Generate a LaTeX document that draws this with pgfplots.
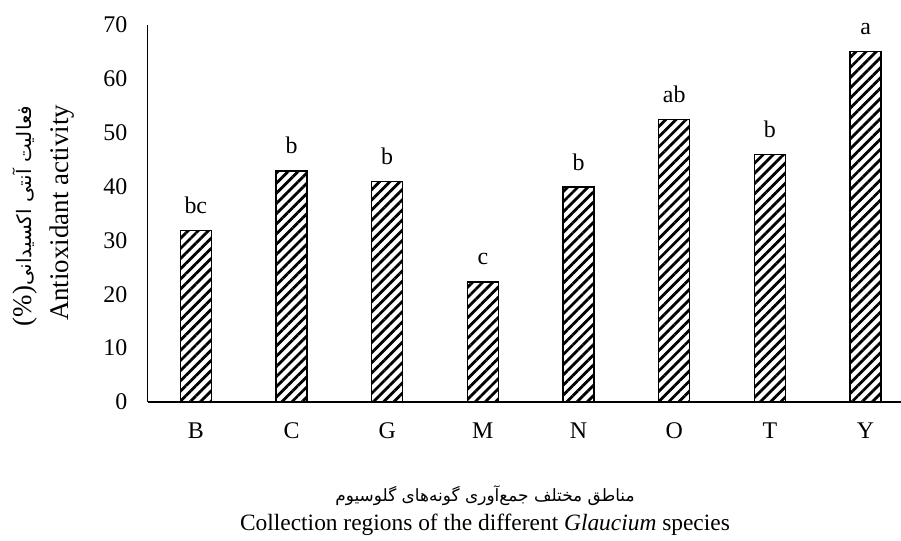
\documentclass[border=0pt]{standalone}
\usepackage{fontspec}
\setmainfont{Liberation Serif}
\newfontfamily\arabicfont[Script=Arabic]{DejaVu Sans}
\TeXXeTstate=1
\usepackage{pgfplots}
\pgfplotsset{compat=1.18}
\usetikzlibrary{patterns.meta}
\pgfplotstableread{
x y l
0 31.8 bc
1 42.9 b
2 41.0 b
3 22.3 c
4 39.9 b
5 52.5 ab
6 46.0 b
7 65.1 a
}\datatab
\newcommand\fs{\fontsize{24}{27}\selectfont}
\newcommand\fsx{\fontsize{23.5}{26}\selectfont}
\newcommand\fsy{\fontsize{27}{30}\selectfont}
\begin{document}
\begin{tikzpicture}
\begin{axis}[
  scale only axis, width=753.5bp, height=377bp,
  xmin=-0.505, xmax=7.37, ymin=0, ymax=70,
  enlargelimits=false,
  axis x line*=bottom, axis y line*=left,
  axis line style={line width=1.3bp},
  ytick={0,10,...,70},
  xtick={0,...,7}, xticklabels={B,C,G,M,N,O,T,Y},
  major tick length=0pt,
  /pgf/number format/assume math mode=true,
  ticklabel style={font=\fs},
  yticklabel style={anchor=east, inner sep=0pt, xshift=-20bp},
  xticklabel style={anchor=base, inner sep=0pt, yshift=-36bp},
  ybar, bar width=31bp,
  nodes near coords, point meta=explicit symbolic,
  every node near coord/.style={font=\fs, anchor=base, inner sep=0pt, yshift=17bp},
]
\addplot[draw=black, line width=1.3bp, fill=white,
  postaction={pattern={Lines[angle=45,distance=7.2bp,line width=2.8bp]}}]
  table[x=x, y=y, meta=l] {\datatab};
\end{axis}
\node[rotate=90, font=\fsy] at (-85bp,189bp) {Antioxidant activity};
\node[rotate=90, font=\fsy] at (-122.5bp,186bp) {(\%)\arabicfont\fontsize{20}{22}\selectfont\beginR فعالیت آنتی اکسیدانی\endR};
\node[font=\fsx] at (337.5bp,-94bp) {\arabicfont\fontsize{17}{20}\selectfont\beginR مناطق مختلف جمع^^^^200cآوری گونه^^^^200cهای گلوسیوم\endR};
\node[font=\fsx] at (337.5bp,-123bp) {Collection regions of the different \textit{Glaucium} species};
\pgfresetboundingbox
\path (-147.5bp,-139bp) rectangle (753.5bp,402bp);
\end{tikzpicture}
\end{document}
